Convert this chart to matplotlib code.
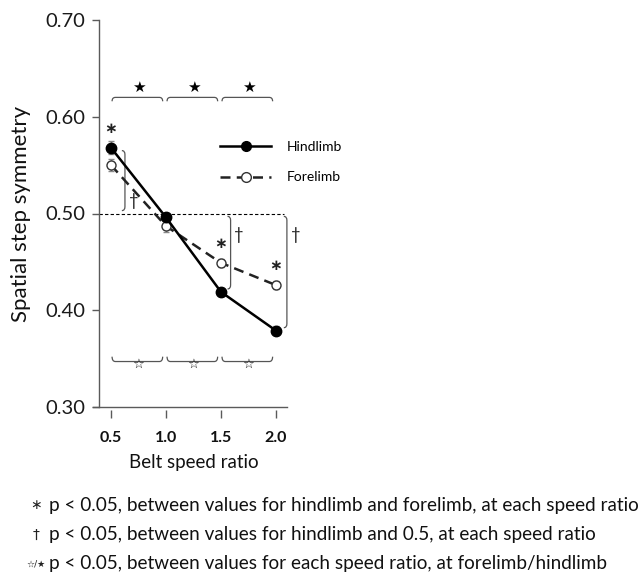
import matplotlib
matplotlib.use("Agg")
import matplotlib.pyplot as plt
from matplotlib.path import Path
from matplotlib.patches import PathPatch
from matplotlib.lines import Line2D

plt.rcParams['font.family'] = ['Lato', 'DejaVu Sans']

# belt speed ratios and mean spatial step symmetry
speed_ratio = [0.5, 1.0, 1.5, 2.0]
hindlimb = [0.568, 0.496, 0.419, 0.379]
forelimb = [0.550, 0.487, 0.449, 0.426]
hind_err = [0.007, 0.005, 0.004, 0.005]
fore_err = [0.006, 0.006, 0.004, 0.004]
y_ticks = [0.30, 0.40, 0.50, 0.60, 0.70]

# significance marks
hind_vs_fore = [True, False, True, True]       # * above the higher point
hind_vs_half = [True, False, True, True]       # dagger brackets
footnotes = [
    ("\u2217", "p < 0.05, between values for hindlimb and forelimb, at each speed ratio"),
    ("\u2020", "p < 0.05, between values for hindlimb and 0.5, at each speed ratio"),
    ("\u2606/\u2605", "p < 0.05, between values for each speed ratio, at forelimb/hindlimb"),
]

W, H = 642, 576
fig = plt.figure(figsize=(W / 100, H / 100), dpi=100)
ax = fig.add_axes([99 / W, 1 - 407 / H, 189 / W, 387 / H])
ax.set_xlim(0.391, 2.11)
ax.set_ylim(0.30, 0.70)

axis_col = '#5a5a5a'
for s in ['top', 'right']:
    ax.spines[s].set_visible(False)
ax.spines['left'].set_color(axis_col)
ax.spines['left'].set_linewidth(1.0)
ax.spines['bottom'].set_visible(False)
ax.spines['bottom'].set_position(('outward', 2.5))
ax.plot([-0.03, 0.995], [0, 0], transform=ax.transAxes, color=axis_col,
        lw=1.0, clip_on=False)

ax.set_yticks(y_ticks)
ax.set_yticklabels(['%.2f' % v for v in y_ticks], fontsize=14.5, color='#1a1a1a')
ax.set_xticks(speed_ratio)
ax.set_xticklabels(['%.1f' % v for v in speed_ratio], fontsize=11.5,
                   fontweight='bold', color='#111111')
ax.tick_params(axis='y', length=5, color=axis_col, width=1.0, pad=5)
ax.tick_params(axis='x', length=6, color=axis_col, width=1.0, pad=9)
ax.set_xlabel('Belt speed ratio', fontsize=13.5, color='#111111', labelpad=6)
ax.set_ylabel('Spatial step symmetry', fontsize=16, color='#111111', labelpad=10)

# reference line at perfect symmetry
ax.axhline(0.5, xmax=0.98, color='black', lw=0.8, ls=(0, (3, 2)))

ax.errorbar(speed_ratio, forelimb, yerr=fore_err, color='#222222', lw=1.8,
            ls=(0, (4, 2.5)), marker='o', ms=6.5, mfc='white', mec='#333333',
            mew=1.0, ecolor='#888888', elinewidth=1, capsize=2, zorder=3)
ax.errorbar(speed_ratio, hindlimb, yerr=hind_err, color='black', lw=1.8,
            marker='o', ms=7.5, mfc='black', mec='black',
            ecolor='#888888', elinewidth=1, capsize=2, zorder=4)


def hbracket(x0, x1, y, hook, r=0.03, **kw):
    verts = [(x0, y + hook), (x0, y), (x0 + r, y), (x1 - r, y), (x1, y), (x1, y + hook)]
    codes = [Path.MOVETO, Path.CURVE3, Path.CURVE3, Path.LINETO, Path.CURVE3, Path.CURVE3]
    ax.add_patch(PathPatch(Path(verts, codes), fill=False, clip_on=False, **kw))


def vbracket(x, y0, y1, hook=-0.028, r=0.004, **kw):
    verts = [(x + hook, y0), (x, y0), (x, y0 - r), (x, y1 + r), (x, y1), (x + hook, y1)]
    codes = [Path.MOVETO, Path.CURVE3, Path.CURVE3, Path.LINETO, Path.CURVE3, Path.CURVE3]
    ax.add_patch(PathPatch(Path(verts, codes), fill=False, clip_on=False, **kw))


br_col = '#555555'
# between-speed brackets: hindlimb above, forelimb below
for a, b in zip(speed_ratio[:-1], speed_ratio[1:]):
    hbracket(a + 0.01, b - 0.03, 0.620, -0.004, lw=0.9, edgecolor=br_col)
    ax.text((a + b) / 2, 0.6225, '\u2605', ha='center', va='bottom', fontsize=11,
            family='DejaVu Sans', color='black')
    hbracket(a + 0.01, b - 0.03, 0.347, 0.005, lw=0.9, edgecolor=br_col)
    ax.text((a + b) / 2, 0.3445, '\u2606', ha='center', va='center', fontsize=9.5,
            family='DejaVu Sans', color='#111111')

# hindlimb vs 0.5 brackets
vx = [0.627, None, 1.588, 2.10]
for x, h, flag, bx in zip(speed_ratio, hindlimb, hind_vs_half, vx):
    if not flag:
        continue
    top, bot = (h, 0.5) if h > 0.5 else (0.5, h)
    vbracket(bx, top - 0.003, bot + 0.003, lw=0.9, edgecolor=br_col)
    ty = 0.513 if h > 0.5 else 0.478
    ax.text(bx + 0.035, ty, '\u2020', ha='left', va='center', fontsize=12,
            color='#222222', clip_on=False)

# hindlimb vs forelimb asterisks
for x, h, f, flag in zip(speed_ratio, hindlimb, forelimb, hind_vs_fore):
    if flag:
        ax.text(x, max(h, f) + 0.02, '\u2217', ha='center', va='center',
                fontsize=11, family='DejaVu Sans', fontweight='bold', color='#222222')

handles = [
    Line2D([], [], color='black', lw=1.8, marker='o', ms=7, mfc='black'),
    Line2D([], [], color='#222222', lw=1.8, ls=(0, (4, 2.5)), marker='o', ms=7,
           mfc='white', mec='#333333'),
]
fig.legend(handles, ['Hindlimb', 'Forelimb'], loc='center left',
           bbox_to_anchor=(220 / W, 1 - 162 / H), frameon=False, fontsize=10,
           handlelength=3.7, handletextpad=1.1, labelspacing=1.35,
           borderpad=0, borderaxespad=0, numpoints=1)

for i, (sym, txt) in enumerate(footnotes):
    yy = 1 - (505 + 29.5 * i) / H
    fig.text(36 / W, yy, sym, ha='center', va='center', fontsize=10 if i < 2 else 6.5,
             family='DejaVu Sans', color='#222222')
    fig.text(49 / W, yy, txt, ha='left', va='center', fontsize=13.6, color='#111111')

fig.savefig('out.png', dpi=100)
